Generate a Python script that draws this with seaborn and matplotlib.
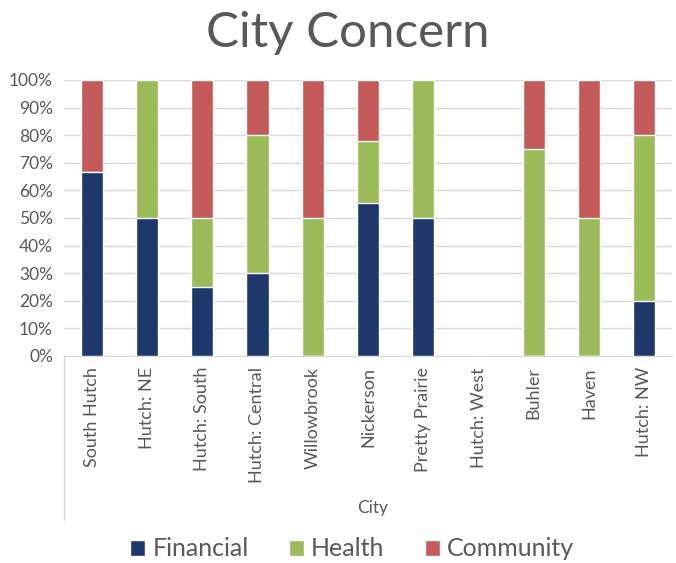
import matplotlib
matplotlib.use("Agg")
import matplotlib.pyplot as plt
import seaborn as sns
import pandas as pd
import numpy as np
from matplotlib.patches import Patch
from matplotlib.ticker import PercentFormatter, MultipleLocator

cities = ["South Hutch", "Hutch: NE", "Hutch: South", "Hutch: Central", "Willowbrook",
          "Nickerson", "Pretty Prairie", "Hutch: West", "Buhler", "Haven", "Hutch: NW"]
financial = [66.7, 50, 25, 30, 0, 55.6, 50, 0, 0, 0, 20]
health = [0, 50, 25, 50, 50, 22.2, 50, 0, 75, 50, 60]
community = [33.3, 0, 50, 20, 50, 22.2, 0, 0, 25, 50, 20]

series = ["Financial", "Health", "Community"]
colors = {"Financial": "#1F386B", "Health": "#9BBB59", "Community": "#C55A5A"}

df = pd.DataFrame({"City": cities, "Financial": financial, "Health": health, "Community": community})
df["c1"] = df["Financial"]
df["c2"] = df["Financial"] + df["Health"]
df["c3"] = df["Financial"] + df["Health"] + df["Community"]

sns.set_style("white")
plt.rcParams["font.family"] = ["Lato", "DejaVu Sans"]
text_color = "#595959"

fig = plt.figure(figsize=(6.76, 5.63), dpi=100)
ax = fig.add_axes([64/676, 1-356/563, (672-64)/676, (356-80)/563])

for col, name in [("c3", "Community"), ("c2", "Health"), ("c1", "Financial")]:
    sns.barplot(data=df, x="City", y=col, order=cities, color=colors[name],
                width=0.4, saturation=1, ax=ax, errorbar=None)

ax.set_ylim(0, 100)
ax.set_xlim(-0.5, len(cities) - 0.5)
ax.yaxis.set_major_locator(MultipleLocator(10))
ax.yaxis.set_major_formatter(PercentFormatter(decimals=0))
ax.grid(axis="y", color="#D9D9D9", linewidth=1)
ax.set_axisbelow(True)
for s in ["top", "right", "left"]:
    ax.spines[s].set_visible(False)
ax.spines["bottom"].set_color("#D9D9D9")
ax.tick_params(axis="y", length=0, labelsize=12.5, labelcolor=text_color, pad=8)
ax.tick_params(axis="x", length=0, labelsize=13, labelcolor=text_color, rotation=90, pad=8)
ax.set_xlabel("")
ax.set_ylabel("")

# Excel-style category axis extension
ax.plot([0, 0], [0, -(520-356)/276], transform=ax.transAxes, color="#D9D9D9",
        lw=1, clip_on=False)
fig.text(373/676, 1-508/563, "City", ha="center", va="center", fontsize=12.5, color=text_color)

fig.text(348/676, 1-33/563, "City Concern", ha="center", va="center", fontsize=35.5, color=text_color)

handles = [Patch(facecolor=colors[s], label=s) for s in series]
fig.legend(handles=handles, loc="center", bbox_to_anchor=(352/676, 1-549/563), ncol=3,
           frameon=False, fontsize=18, labelcolor=text_color, handlelength=0.6,
           handleheight=0.6, handletextpad=0.3, columnspacing=1.6)

fig.savefig("out.png", dpi=100)
